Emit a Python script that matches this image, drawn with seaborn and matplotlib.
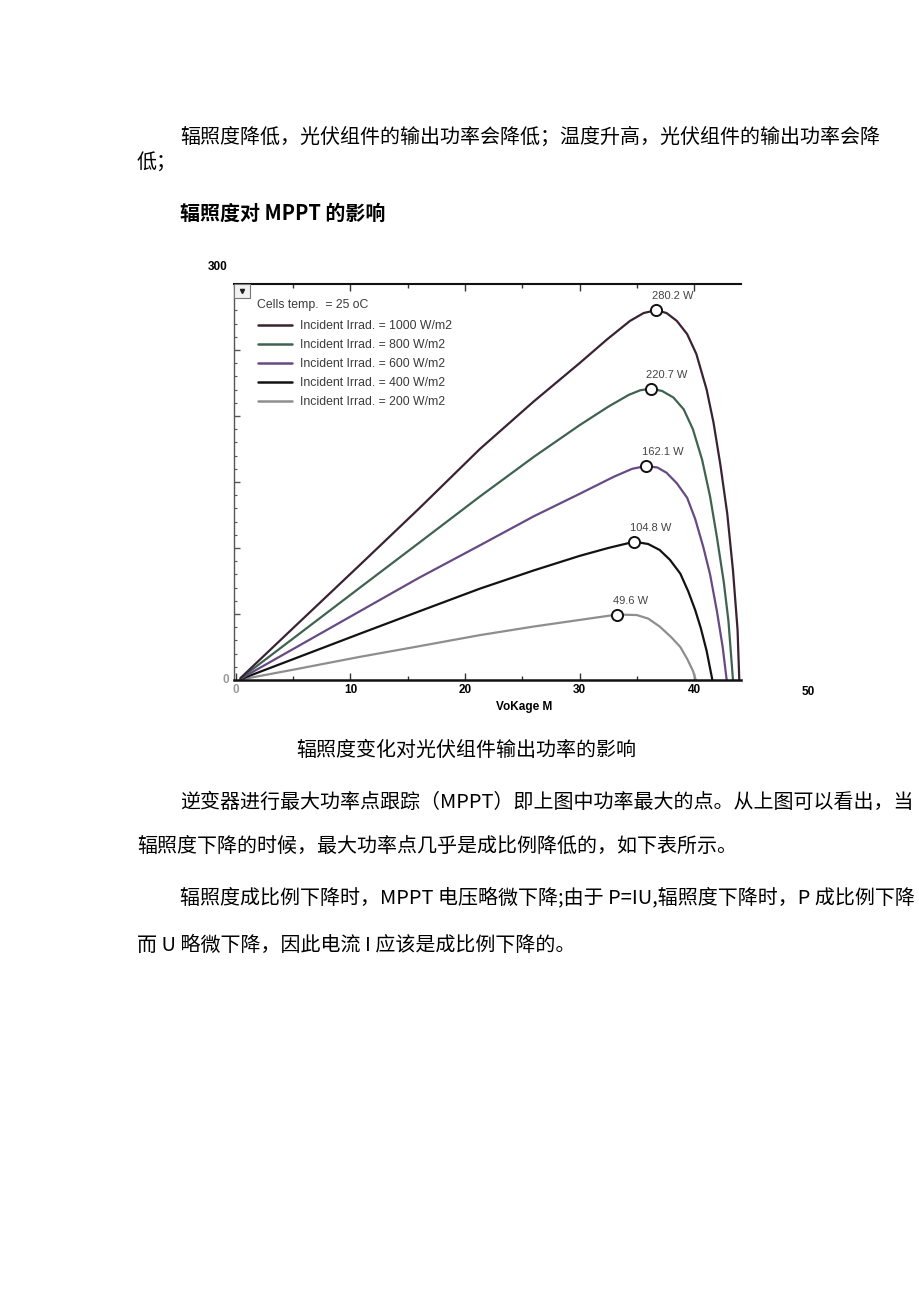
import numpy as np
import pandas as pd
import matplotlib
matplotlib.use("Agg")
import matplotlib.pyplot as plt
import seaborn as sns
from matplotlib.lines import Line2D
from matplotlib.patches import Rectangle

# ---------------- data ----------------
irradiances = [1000, 800, 600, 400, 200]

v_1000 = [0.4, 5, 10.8, 16, 21.3, 26, 30, 32.4, 34.4, 35.6, 36.7, 37.6, 38.5, 39.4, 40.2, 41.1, 41.7, 42.3, 42.9, 43.4, 43.8, 43.95]
p_1000 = [1.5, 39.4, 87, 130, 175, 211, 240, 258, 272, 278, 280.2, 278, 272, 262, 247, 220, 195, 163, 126, 83, 38, 0]

v_800 = [0.4, 5, 10.8, 16, 21.3, 26, 30, 32.5, 34.3, 35.3, 36.2, 37.2, 38.2, 39.1, 39.9, 40.7, 41.4, 42.0, 42.6, 43.0, 43.4]
p_800 = [1.2, 31.5, 69.8, 104, 139, 169, 193, 207, 216, 219.5, 220.7, 219, 214, 205, 190, 167, 139, 108, 74, 45, 0]

v_600 = [0.4, 5, 10.8, 16, 21.3, 26, 30, 33.0, 34.6, 35.8, 36.8, 37.6, 38.5, 39.4, 40.1, 40.8, 41.4, 42.0, 42.5, 42.85]
p_600 = [0.9, 23.5, 52, 77.5, 102, 124, 141, 154, 160, 162.1, 161, 157, 149, 138, 122, 101, 80, 52, 25, 0]

v_400 = [0.4, 5, 10.8, 16, 21.3, 26, 30, 32.5, 34.8, 36.0, 37.0, 37.9, 38.8, 39.5, 40.1, 40.6, 41.1, 41.6]
p_400 = [0.6, 15.8, 35, 52, 69.2, 83, 94, 100, 104.8, 103, 98.5, 91, 80.6, 67, 53, 39, 22, 0]

v_200 = [0.4, 5, 10.8, 16, 21.3, 26, 30, 33.3, 35.0, 36.0, 37.0, 38.0, 38.8, 39.4, 39.9, 40.15]
p_200 = [0.3, 7.8, 17.5, 25.6, 34, 40.5, 45.5, 49.6, 49.2, 46.5, 40.5, 32.5, 25, 16, 7, 0]

mpp_v = [36.7, 36.2, 35.8, 34.8, 33.3]
mpp_p = [280.2, 220.7, 162.1, 104.8, 49.6]
mpp_labels = ["280.2 W", "220.7 W", "162.1 W", "104.8 W", "49.6 W"]

legend_labels = ["Incident Irrad. = 1000 W/m2", "Incident Irrad. = 800 W/m2",
                 "Incident Irrad. = 600 W/m2", "Incident Irrad. = 400 W/m2",
                 "Incident Irrad. = 200 W/m2"]
legend_title = "Cells temp.  = 25 oC"
x_ticks = [0, 10, 20, 30, 40]
x_label = "VoKage M"

text_line1 = "辐照度降低，光伏组件的输出功率会降低；温度升高，光伏组件的输出功率会降"
text_line2 = "低；"
heading = "辐照度对 MPPT 的影响"
caption = "辐照度变化对光伏组件输出功率的影响"
para = [
    "逆变器进行最大功率点跟踪（MPPT）即上图中功率最大的点。从上图可以看出，当",
    "辐照度下降的时候，最大功率点几乎是成比例降低的，如下表所示。",
    "辐照度成比例下降时，MPPT 电压略微下降;由于 P=IU,辐照度下降时，P 成比例下降",
    "而 U 略微下降，因此电流 I 应该是成比例下降的。",
]

colors = ["#3a2232", "#3f6350", "#674a84", "#121212", "#8e8e8e"]

# ---------------- build frame ----------------
series = [(v_1000, p_1000), (v_800, p_800), (v_600, p_600), (v_400, p_400), (v_200, p_200)]
rows = []
for irr, (vs, ps) in zip(irradiances, series):
    for i, (v, p) in enumerate(zip(vs, ps)):
        rows.append({"irr": irr, "V": v, "P": p, "order": i})
df = pd.DataFrame(rows)
mpp_df = pd.DataFrame({"irr": irradiances, "V": mpp_v, "P": mpp_p})

sns.set_theme(style="white")
plt.rcParams["font.family"] = ["Liberation Sans", "DejaVu Sans"]

W, H = 920, 1301
fig = plt.figure(figsize=(W / 100, H / 100), dpi=100)
fig.patch.set_facecolor("white")

ax_l, ax_r, ax_t, ax_b = 234, 741, 284, 680
AW, AH = ax_r - ax_l, ax_b - ax_t
ax = fig.add_axes([ax_l / W, 1 - ax_b / H, AW / W, AH / H])
ax.set_facecolor("white")

palette = {irr: c for irr, c in zip(irradiances, colors)}
sns.lineplot(data=df, x="V", y="P", hue="irr", units="irr", estimator=None, sort=False,
             palette=palette, linewidth=1.6, legend=False, ax=ax)
sns.scatterplot(data=mpp_df, x="V", y="P", marker="o", s=64, color="white",
                edgecolor="#111111", linewidth=1.4, zorder=5, legend=False, ax=ax)

for v, p, lab in zip(mpp_v, mpp_p, mpp_labels):
    ax.annotate(lab, (v, p), xytext=(-3, 6.5), textcoords="offset points",
                ha="left", va="bottom", fontsize=8, color="#444444")

ax.set_xlim(-0.17, 44.1)
ax.set_ylim(0, 300)

# ticks
ax.set_xticks(x_ticks)
ax.set_xticks(np.arange(5, 45, 10), minor=True)
ax.set_yticks(np.arange(50, 300, 50))
ax.set_yticks(np.arange(10, 300, 10), minor=True)
ax.set_yticklabels([])
ax.tick_params(axis="x", which="both", direction="in", top=True, bottom=True,
               colors="#333333", labelsize=8.5, pad=3)
ax.tick_params(axis="x", which="major", length=5, width=1)
ax.tick_params(axis="x", which="minor", length=3, width=1)
ax.tick_params(axis="y", which="both", direction="in", left=True, colors="#555555")
ax.tick_params(axis="y", which="major", length=4.5, width=1)
ax.tick_params(axis="y", which="minor", length=2.2, width=0.8)
ax.set_xticklabels([str(t) for t in x_ticks])
for lbl, t in zip(ax.get_xticklabels(), x_ticks):
    lbl.set_fontweight("bold")
    lbl.set_color("#9a9a9a" if t == 0 else "black")

ax.text(50, -4.7, "50", transform=ax.transData, ha="center", va="top",
        fontsize=8.5, fontweight="bold", color="black", clip_on=False)
ax.text(-0.6, 0, "0", ha="right", va="center", fontsize=8.5, fontweight="bold",
        color="#9a9a9a", clip_on=False)
ax.text(-0.7, 313, "300", ha="right", va="center", fontsize=8.5, fontweight="bold",
        color="black", clip_on=False)

ax.set_xlabel(x_label, fontsize=8.5, fontweight="bold", color="black")
ax.xaxis.set_label_coords((524 - ax_l) / AW, -21 / AH)
ax.set_ylabel("")

ax.spines["right"].set_visible(False)
ax.spines["bottom"].set_linewidth(1.8)
ax.spines["bottom"].set_color("#111111")
ax.spines["top"].set_linewidth(1.5)
ax.spines["top"].set_color("#111111")
ax.spines["left"].set_linewidth(1.0)
ax.spines["left"].set_color("#555555")

# legend
handles = [Line2D([0], [0], color=c, lw=1.8) for c in colors]
leg = ax.legend(handles, legend_labels, loc="upper left",
                bbox_to_anchor=(24 / AW, 1 - 36 / AH), frameon=False, fontsize=8.8,
                handlelength=2.8, handletextpad=0.6,
                labelspacing=0.58, borderpad=0, borderaxespad=0)
for t in leg.get_texts():
    t.set_color("#3a3a3a")
ax.text(23 / AW, 1 - 21 / AH, legend_title, transform=ax.transAxes, ha="left",
        va="center", fontsize=8.8, color="#3a3a3a")

# small dropdown box in the corner
ax.add_patch(Rectangle((0, 1 - 14 / AH), 16 / AW, 14 / AH, transform=ax.transAxes,
                       facecolor="#f2f2f2", edgecolor="#777777", lw=0.8, clip_on=False, zorder=6))
ax.plot([8 / AW], [1 - 7 / AH], marker="v", ms=3, color="#222222",
        transform=ax.transAxes, clip_on=False, zorder=7)

# ---------------- document text ----------------
cjk = ["Noto Sans CJK SC", "DejaVu Sans"]

def ftext(xpx, ypx, s, size=14.4, weight="normal"):
    fig.text(xpx / W, 1 - ypx / H, s, ha="left", va="center", fontsize=size,
             fontweight=weight, family=cjk, color="black")

ftext(180, 137, text_line1, size=14.4)
ftext(137, 163, text_line2)
ftext(180, 213, heading, weight="bold")
ftext(296, 750, caption)
ftext(180, 802, para[0])
ftext(137, 846, para[1])
ftext(180, 898, para[2])
ftext(137, 945, para[3])

fig.savefig("out.png", dpi=100, facecolor="white")
